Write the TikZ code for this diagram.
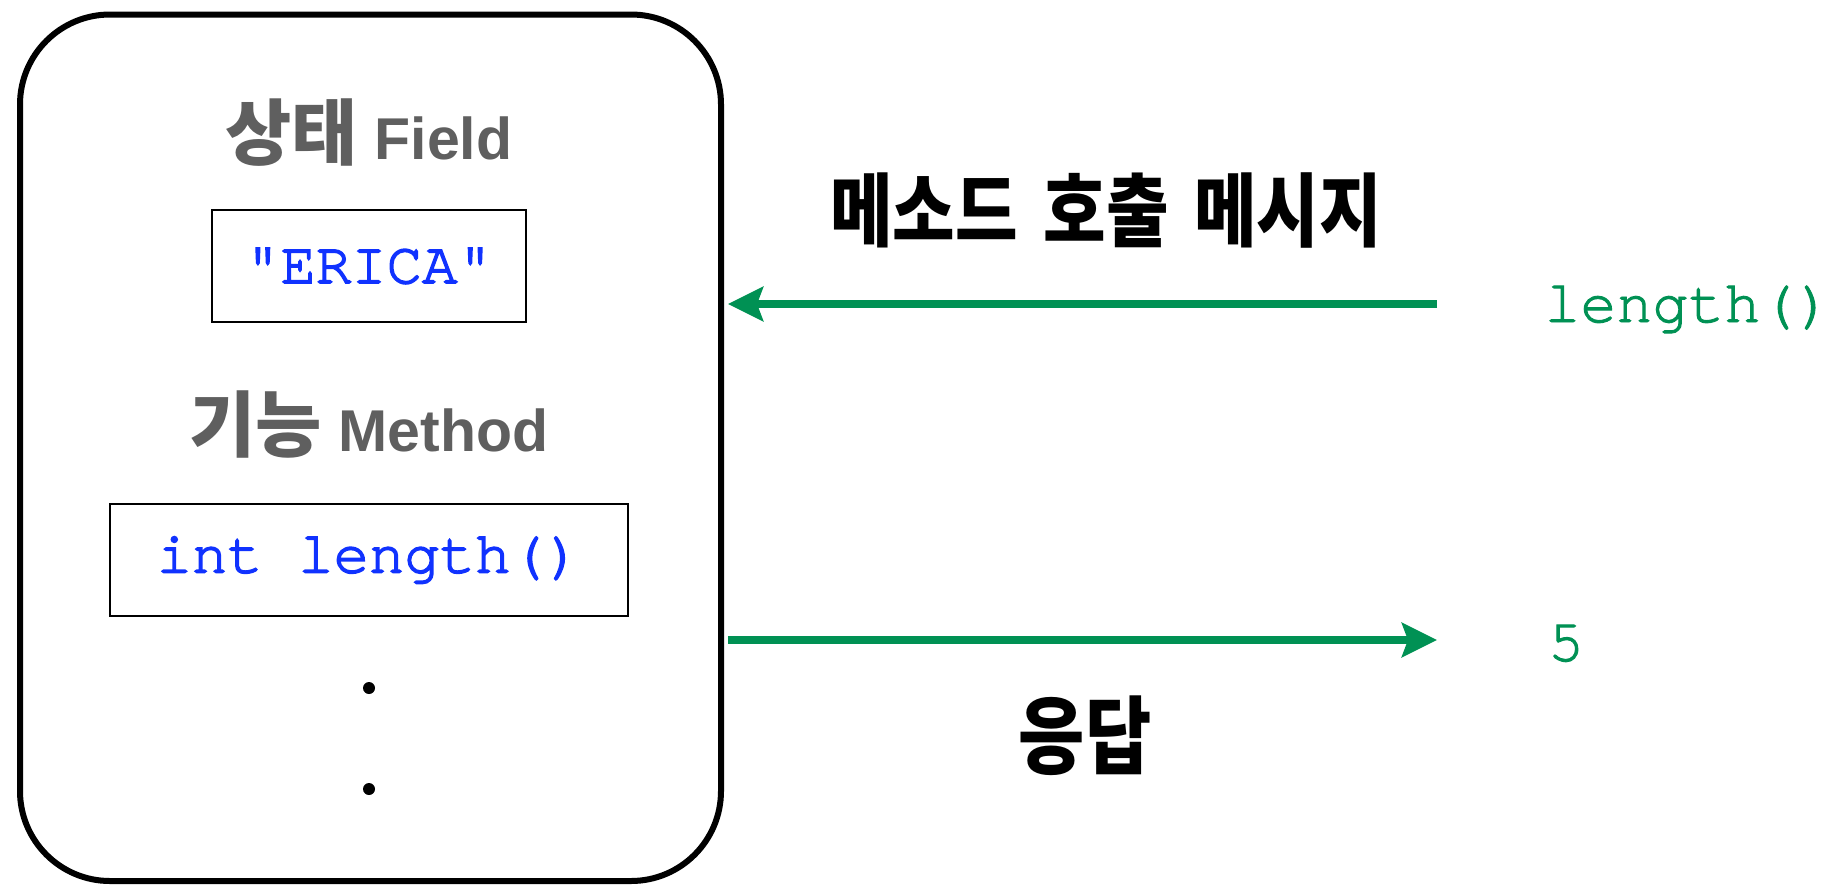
\documentclass[tikz,border=0pt]{standalone}
\usepackage{fontspec}
\usepackage{graphicx}
\setmainfont{Liberation Sans}
\newfontfamily\krfont{Noto Sans CJK KR}
\newfontfamily\codefont{texgyrecursor-regular.otf}[FakeBold=1.6]
\newfontfamily\codefontheavy{texgyrecursor-regular.otf}[FakeBold=2.6]
\usetikzlibrary{arrows.meta}
\definecolor{msggreen}{RGB}{0,145,84}
\definecolor{codeblue}{RGB}{16,50,255}
\definecolor{labelgray}{RGB}{95,95,95}
% tall Hangul headings
\newcommand{\tallkr}[1]{\scalebox{1}[1.18]{#1}}

\begin{document}
\begin{tikzpicture}[x=0.5pt,y=-0.5pt,
  objbox/.style={draw=black, line width=3pt, rounded corners=45pt,
    minimum width=350.5pt, minimum height=433.25pt, inner sep=0pt},
  slotbox/.style={draw=black, line width=1pt, minimum height=56pt, inner sep=0pt,
    font=\codefontheavy\fontsize{29.5}{32}\selectfont, text=codeblue},
  sectitle/.style={text=labelgray, inner sep=0pt, anchor=base,
    font=\bfseries\fontsize{29.5}{32}\selectfont},
  krhead/.style={inner sep=0pt, font=\krfont\bfseries\fontsize{34}{38}\selectfont},
  msgtext/.style={inner sep=0pt, text=msggreen, font=\codefont\fontsize{30}{32}\selectfont},
  dotmark/.style={circle, fill=black, inner sep=0pt, minimum size=6pt},
  msgarrow/.style={draw=msggreen, line width=3.75pt,
    -{Stealth[length=17.5pt, width=17pt, inset=3pt]}}
]
\useasboundingbox (0,0) rectangle (1829,884);

% the object
\node[objbox] (obj) at (370.5,447.75) {};

% state
\node[sectitle] (statelbl) at (369,159)
  {{\krfont\fontsize{36}{40}\selectfont 상태} Field};
\node[slotbox, minimum width=157pt] (field) at (369,266) {"ERICA"};

% behaviour
\node[sectitle] (methodlbl) at (369,451)
  {{\krfont\fontsize{36}{40}\selectfont 기능} Method};
\node[slotbox, minimum width=259pt] (method) at (369,560) {int length()};

\node[dotmark] (dot1) at (369,688) {};
\node[dotmark] (dot2) at (369,789) {};

% messages
\node[krhead] (calllbl) at (1106,210) {\tallkr{메소드\hspace{5pt} 호출\hspace{5pt} 메시지}};
\node[krhead, font=\krfont\bfseries\fontsize{36}{40}\selectfont] (replylbl) at (1085,736) {\tallkr{응답}};

\node[msgtext, anchor=base west] (callmsg) at (1544,322) {length()};
\node[msgtext, anchor=base] (replymsg) at (1566,661) {5};

\coordinate (callsrc) at (1437,304);
\coordinate (replydst) at (1437,640);

\draw[msgarrow, shorten >=2pt] (callsrc) -- (obj.east |- callsrc);
\draw[msgarrow, shorten <=2pt] (obj.east |- replydst) -- (replydst);
\end{tikzpicture}
\end{document}
